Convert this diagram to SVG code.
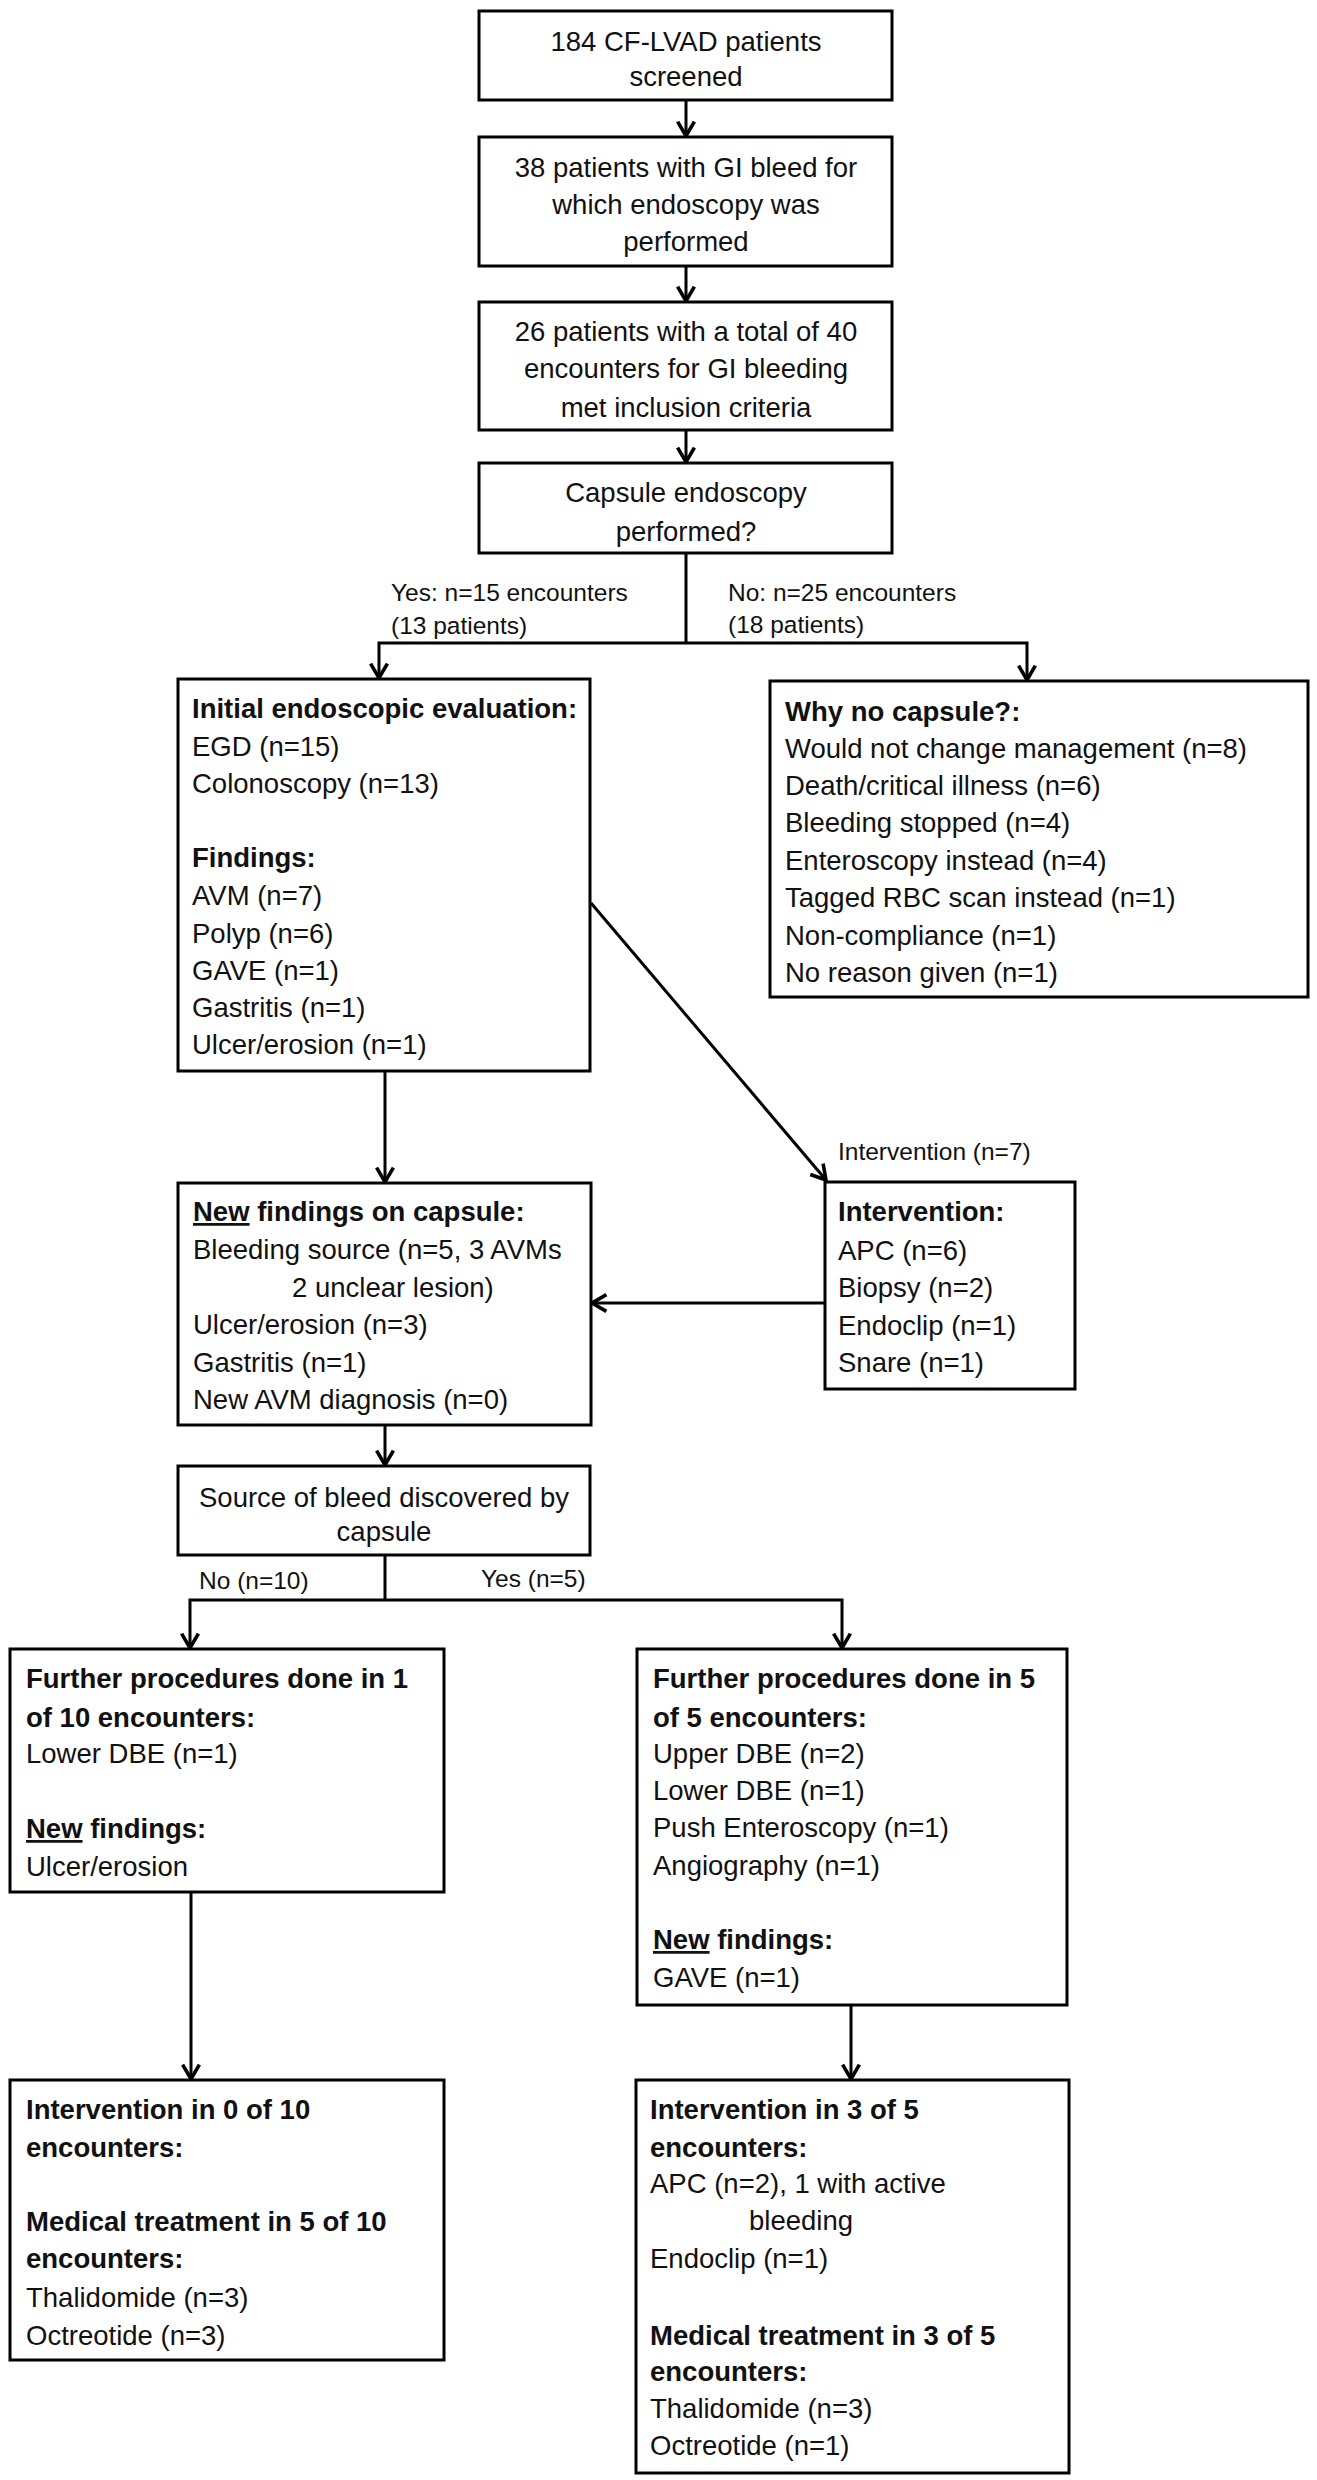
<svg xmlns="http://www.w3.org/2000/svg" width="1317" height="2480" viewBox="0 0 1317 2480">
<style>
.box{fill:#fff;stroke:#000;stroke-width:3}
.t{font-family:"Liberation Sans",Arial,sans-serif;font-size:27.5px;fill:#111}
.b{font-weight:bold}
.c{text-anchor:middle}
.lbl{font-family:"Liberation Sans",Arial,sans-serif;font-size:24.5px;fill:#111}
.conn{stroke:#000;stroke-width:3;fill:none}
.u{text-decoration:underline}
</style>
<defs>
<marker id="ah" markerUnits="userSpaceOnUse" markerWidth="24" markerHeight="24" viewBox="-14 -10 16 20" refX="0" refY="0" orient="auto">
<path d="M-12,-7 L0,0 L-12,7" fill="none" stroke="#000" stroke-width="3"/>
</marker>
</defs>
<rect width="1317" height="2480" fill="#fff"/>
<g id="connectors">
<path class="conn" d="M686,100 V136" marker-end="url(#ah)"/>
<path class="conn" d="M686,266 V301" marker-end="url(#ah)"/>
<path class="conn" d="M686,430 V462" marker-end="url(#ah)"/>
<path class="conn" d="M686,553 V643"/>
<path class="conn" d="M686,643 H379 V678" marker-end="url(#ah)"/>
<path class="conn" d="M686,643 H1027 V680" marker-end="url(#ah)"/>
<path class="conn" d="M385,1071 V1182" marker-end="url(#ah)"/>
<path class="conn" d="M591,903 L826,1180" marker-end="url(#ah)"/>
<path class="conn" d="M824,1303 H592" marker-end="url(#ah)"/>
<path class="conn" d="M385,1425 V1465" marker-end="url(#ah)"/>
<path class="conn" d="M385,1555 V1600"/>
<path class="conn" d="M385,1600 H190 V1648" marker-end="url(#ah)"/>
<path class="conn" d="M385,1600 H842 V1648" marker-end="url(#ah)"/>
<path class="conn" d="M191,1892 V2079" marker-end="url(#ah)"/>
<path class="conn" d="M851,2005 V2079" marker-end="url(#ah)"/>
<text class="lbl" x="391" y="601">Yes: n=15 encounters</text>
<text class="lbl" x="391" y="634">(13 patients)</text>
<text class="lbl" x="728" y="601">No: n=25 encounters</text>
<text class="lbl" x="728" y="633">(18 patients)</text>
<text class="lbl" x="838" y="1160">Intervention (n=7)</text>
<text class="lbl" x="199" y="1589">No (n=10)</text>
<text class="lbl" x="481" y="1587">Yes (n=5)</text>
</g>
<g id="n1">
<rect class="box" x="479" y="11" width="413" height="89"/>
<text class="t c" x="686" y="51">184 CF-LVAD patients</text>
<text class="t c" x="686" y="86">screened</text>
</g>
<g id="n2">
<rect class="box" x="479" y="137" width="413" height="129"/>
<text class="t c" x="686" y="177">38 patients with GI bleed for</text>
<text class="t c" x="686" y="214">which endoscopy was</text>
<text class="t c" x="686" y="251">performed</text>
</g>
<g id="n3">
<rect class="box" x="479" y="302" width="413" height="128"/>
<text class="t c" x="686" y="341">26 patients with a total of 40</text>
<text class="t c" x="686" y="378">encounters for GI bleeding</text>
<text class="t c" x="686" y="417">met inclusion criteria</text>
</g>
<g id="n4">
<rect class="box" x="479" y="463" width="413" height="90"/>
<text class="t c" x="686" y="502">Capsule endoscopy</text>
<text class="t c" x="686" y="541">performed?</text>
</g>
<g id="n5">
<rect class="box" x="178" y="679" width="412" height="392"/>
<text class="t b" x="192" y="718">Initial endoscopic evaluation:</text>
<text class="t" x="192" y="756">EGD (n=15)</text>
<text class="t" x="192" y="793">Colonoscopy (n=13)</text>
<text class="t b" x="192" y="867">Findings:</text>
<text class="t" x="192" y="905">AVM (n=7)</text>
<text class="t" x="192" y="943">Polyp (n=6)</text>
<text class="t" x="192" y="980">GAVE (n=1)</text>
<text class="t" x="192" y="1017">Gastritis (n=1)</text>
<text class="t" x="192" y="1054">Ulcer/erosion (n=1)</text>
</g>
<g id="n6">
<rect class="box" x="770" y="681" width="538" height="316"/>
<text class="t b" x="785" y="721">Why no capsule?:</text>
<text class="t" x="785" y="758">Would not change management (n=8)</text>
<text class="t" x="785" y="795">Death/critical illness (n=6)</text>
<text class="t" x="785" y="832">Bleeding stopped (n=4)</text>
<text class="t" x="785" y="870">Enteroscopy instead (n=4)</text>
<text class="t" x="785" y="907">Tagged RBC scan instead (n=1)</text>
<text class="t" x="785" y="945">Non-compliance (n=1)</text>
<text class="t" x="785" y="982">No reason given (n=1)</text>
</g>
<g id="n7">
<rect class="box" x="178" y="1183" width="413" height="242"/>
<text class="t b" x="193" y="1221"><tspan class="u">New</tspan> findings on capsule:</text>
<text class="t" x="193" y="1259">Bleeding source (n=5, 3 AVMs</text>
<text class="t" x="292" y="1297">2 unclear lesion)</text>
<text class="t" x="193" y="1334">Ulcer/erosion (n=3)</text>
<text class="t" x="193" y="1372">Gastritis (n=1)</text>
<text class="t" x="193" y="1409">New AVM diagnosis (n=0)</text>
</g>
<g id="n8">
<rect class="box" x="825" y="1182" width="250" height="207"/>
<text class="t b" x="838" y="1221">Intervention:</text>
<text class="t" x="838" y="1260">APC (n=6)</text>
<text class="t" x="838" y="1297">Biopsy (n=2)</text>
<text class="t" x="838" y="1335">Endoclip (n=1)</text>
<text class="t" x="838" y="1372">Snare (n=1)</text>
</g>
<g id="n9">
<rect class="box" x="178" y="1466" width="412" height="89"/>
<text class="t c" x="384" y="1507">Source of bleed discovered by</text>
<text class="t c" x="384" y="1541">capsule</text>
</g>
<g id="n10">
<rect class="box" x="10" y="1649" width="434" height="243"/>
<text class="t b" x="26" y="1688">Further procedures done in 1</text>
<text class="t b" x="26" y="1727">of 10 encounters:</text>
<text class="t" x="26" y="1763">Lower DBE (n=1)</text>
<text class="t b" x="26" y="1838"><tspan class="u">New</tspan> findings:</text>
<text class="t" x="26" y="1876">Ulcer/erosion</text>
</g>
<g id="n11">
<rect class="box" x="637" y="1649" width="430" height="356"/>
<text class="t b" x="653" y="1688">Further procedures done in 5</text>
<text class="t b" x="653" y="1727">of 5 encounters:</text>
<text class="t" x="653" y="1763">Upper DBE (n=2)</text>
<text class="t" x="653" y="1800">Lower DBE (n=1)</text>
<text class="t" x="653" y="1837">Push Enteroscopy (n=1)</text>
<text class="t" x="653" y="1875">Angiography (n=1)</text>
<text class="t b" x="653" y="1949"><tspan class="u">New</tspan> findings:</text>
<text class="t" x="653" y="1987">GAVE (n=1)</text>
</g>
<g id="n12">
<rect class="box" x="10" y="2080" width="434" height="280"/>
<text class="t b" x="26" y="2119">Intervention in 0 of 10</text>
<text class="t b" x="26" y="2157">encounters:</text>
<text class="t b" x="26" y="2231">Medical treatment in 5 of 10</text>
<text class="t b" x="26" y="2268">encounters:</text>
<text class="t" x="26" y="2307">Thalidomide (n=3)</text>
<text class="t" x="26" y="2345">Octreotide (n=3)</text>
</g>
<g id="n13">
<rect class="box" x="636" y="2080" width="433" height="393"/>
<text class="t b" x="650" y="2119">Intervention in 3 of 5</text>
<text class="t b" x="650" y="2157">encounters:</text>
<text class="t" x="650" y="2193">APC (n=2), 1 with active</text>
<text class="t" x="749" y="2230">bleeding</text>
<text class="t" x="650" y="2268">Endoclip (n=1)</text>
<text class="t b" x="650" y="2345">Medical treatment in 3 of 5</text>
<text class="t b" x="650" y="2381">encounters:</text>
<text class="t" x="650" y="2418">Thalidomide (n=3)</text>
<text class="t" x="650" y="2455">Octreotide (n=1)</text>
</g>
</svg>
